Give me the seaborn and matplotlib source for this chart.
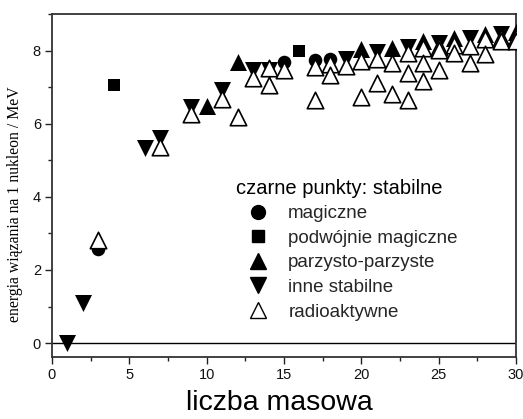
import matplotlib
matplotlib.use("Agg")
import matplotlib.pyplot as plt
import seaborn as sns
import numpy as np
from matplotlib.lines import Line2D
from matplotlib.ticker import MultipleLocator

# ---- data (mass number A, binding energy per nucleon in MeV) ----
magic_A = [3, 15, 17, 18]
magic_E = [2.57, 7.70, 7.75, 7.77]

dmagic_A = [4, 16]
dmagic_E = [7.07, 7.98]

evenEven_A = [10, 12, 20, 22, 24, 26, 28, 30]
evenEven_E = [6.48, 7.68, 8.03, 8.08, 8.26, 8.33, 8.45, 8.52]

otherStable_A = [1, 2, 6, 7, 9, 11, 13, 14, 19, 21, 23, 25, 27, 29]
otherStable_E = [0.0, 1.11, 5.33, 5.61, 6.46, 6.93, 7.47, 7.48, 7.78, 7.97, 8.11, 8.22, 8.33, 8.45]

radio_A = [3, 7, 9, 11, 12, 13, 14, 14, 15, 17, 17, 18, 18, 19, 20, 20, 21, 21,
           22, 22, 23, 23, 23, 24, 24, 24, 25, 25, 25, 26, 26, 27, 27, 28, 28,
           29, 29, 30, 30]
radio_E = [2.83, 5.37, 6.26, 6.68, 6.17, 7.24, 7.52, 7.05, 7.46, 7.54, 6.64, 7.63, 7.34, 7.57, 7.72, 6.73, 7.77, 7.10,
           7.66, 6.82, 7.94, 7.40, 6.66, 8.06, 7.65, 7.17, 8.10, 8.02, 7.48, 8.15, 7.92, 8.12, 7.66, 8.31, 7.91,
           8.35, 8.25, 8.35, 8.26]

legend_title = "czarne punkty: stabilne"
labels = ["magiczne", "podwójnie magiczne", "parzysto-parzyste", "inne stabilne", "radioaktywne"]

sns.set_theme(style="white")
plt.rcParams['font.family'] = ['Liberation Sans', 'DejaVu Sans']

fig = plt.figure(figsize=(5.23, 4.19), dpi=100)
ax = fig.add_axes([52/523, 1-357/419, (516-52)/523, (357-14)/419])

ax.axhline(0, color='black', lw=1.0, zorder=1)

sns.scatterplot(x=evenEven_A, y=evenEven_E, marker='^', s=150, color='black', edgecolor='black', linewidth=0, ax=ax, zorder=3)
sns.scatterplot(x=otherStable_A, y=otherStable_E, marker='v', s=150, color='black', edgecolor='black', linewidth=0, ax=ax, zorder=3)
sns.scatterplot(x=magic_A, y=magic_E, marker='o', s=95, color='black', edgecolor='black', linewidth=0, ax=ax, zorder=3)
sns.scatterplot(x=dmagic_A, y=dmagic_E, marker='s', s=85, color='black', edgecolor='black', linewidth=0, ax=ax, zorder=3)
sns.scatterplot(x=radio_A, y=radio_E, marker='^', s=140, facecolor='white', edgecolor='black', linewidth=1.2, ax=ax, zorder=4)

ax.set_xlim(0, 30)
ax.set_ylim(-0.38, 9.0)
ax.xaxis.set_major_locator(MultipleLocator(5))
ax.xaxis.set_minor_locator(MultipleLocator(2.5))
ax.yaxis.set_major_locator(MultipleLocator(2))
ax.yaxis.set_minor_locator(MultipleLocator(1))
ax.tick_params(which='both', direction='out', bottom=True, left=True, top=False, right=False,
               color='#222222', width=1.0, labelsize=10.5, labelcolor='#111111', pad=3)
ax.tick_params(which='major', length=5)
ax.tick_params(which='minor', length=3)
for sp in ax.spines.values():
    sp.set_color('#333333')
    sp.set_linewidth(1.3)

ax.set_xlabel("liczba masowa", fontsize=20.5, color='black')
ax.xaxis.set_label_coords(0.49, -0.095)
ax.set_ylabel("energia wiązania na 1 nukleon / MeV", fontsize=11.3,
              family=['Liberation Serif', 'DejaVu Serif'], color='black')
ax.yaxis.set_label_coords(-0.062, 0.445)

# legend
ax.text((236-52)/464, (357-188)/343, legend_title, transform=ax.transAxes,
        fontsize=14.5, va='center', ha='left', color='black')
handles = [
    Line2D([], [], ls='none', marker='o', ms=10, mfc='black', mec='black'),
    Line2D([], [], ls='none', marker='s', ms=9, mfc='black', mec='black'),
    Line2D([], [], ls='none', marker='^', ms=12, mfc='black', mec='black'),
    Line2D([], [], ls='none', marker='v', ms=12, mfc='black', mec='black'),
    Line2D([], [], ls='none', marker='^', ms=12, mfc='white', mec='black', mew=1.0),
]
leg = ax.legend(handles, labels, loc='upper left', bbox_to_anchor=((247-52)/464, (357-205)/343),
                frameon=False, fontsize=13.5, handlelength=1.2, handletextpad=1.0,
                labelspacing=0.40, borderpad=0, borderaxespad=0)

fig.savefig("out.png", dpi=100)
